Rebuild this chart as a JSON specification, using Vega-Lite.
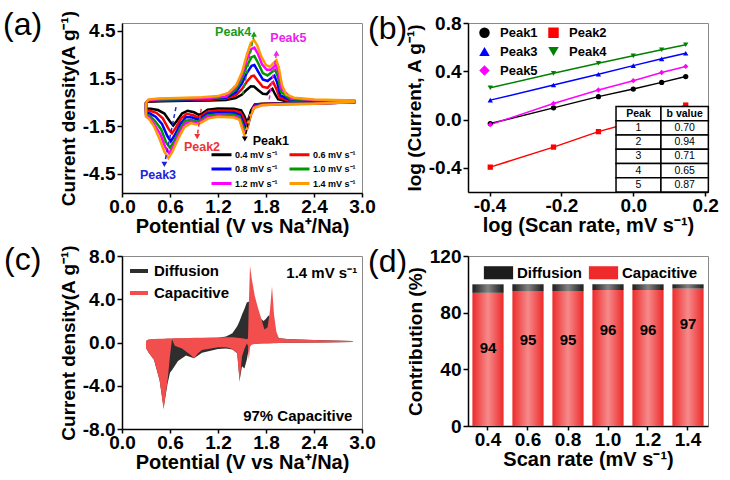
{
"$schema": "https://vega.github.io/schema/vega-lite/v6.json",
"padding": {"left": 2, "top": 8, "right": 0, "bottom": 0},
"config": {
  "font": "Liberation Sans",
  "locale": {"number": {"decimal": ".", "thousands": ",", "grouping": [3], "currency": ["$", ""], "minus": "-"}},
  "view": {"stroke": "#8a8a8a", "strokeWidth": 1},
  "axis": {"domainColor": "#000", "domainWidth": 1.5, "tickColor": "#000", "tickWidth": 1.5, "tickSize": 5, "labelFont": "Liberation Sans", "labelFontSize": 19, "labelFontWeight": "bold", "labelColor": "#000", "titleFont": "Liberation Sans", "titleFontSize": 19, "titleFontWeight": "bold", "titleColor": "#000", "grid": false, "labelPadding": 2, "titlePadding": 4, "labelFlush": false, "labelOverlap": false, "labelBound": false},
  "axisX": {"titleFontSize": 20, "tickSize": 4, "labelPadding": 0, "titlePadding": 0},
  "title": {"font": "Liberation Sans", "fontSize": 32, "fontWeight": "normal", "anchor": "start", "frame": "group", "color": "#000", "offset": -32},
  "legend": {"labelFont": "Liberation Sans", "labelColor": "#000", "title": null}
},
"datasets": {
  "cv": [
{"r":"0.4 mV s⁻¹","v":0.30,"j":0.00},{"r":"0.4 mV s⁻¹","v":0.33,"j":0.05},{"r":"0.4 mV s⁻¹","v":0.50,"j":0.08},{"r":"0.4 mV s⁻¹","v":0.80,"j":0.10},{"r":"0.4 mV s⁻¹","v":1.10,"j":0.12},{"r":"0.4 mV s⁻¹","v":1.30,"j":0.16},{"r":"0.4 mV s⁻¹","v":1.42,"j":0.28},{"r":"0.4 mV s⁻¹","v":1.50,"j":0.50},{"r":"0.4 mV s⁻¹","v":1.56,"j":0.80},{"r":"0.4 mV s⁻¹","v":1.61,"j":1.02},{"r":"0.4 mV s⁻¹","v":1.65,"j":1.00},{"r":"0.4 mV s⁻¹","v":1.70,"j":0.78},{"r":"0.4 mV s⁻¹","v":1.76,"j":0.55},{"r":"0.4 mV s⁻¹","v":1.81,"j":0.52},{"r":"0.4 mV s⁻¹","v":1.85,"j":0.75},{"r":"0.4 mV s⁻¹","v":1.88,"j":0.85},{"r":"0.4 mV s⁻¹","v":1.91,"j":0.55},{"r":"0.4 mV s⁻¹","v":1.95,"j":0.20},{"r":"0.4 mV s⁻¹","v":2.05,"j":0.08},{"r":"0.4 mV s⁻¹","v":2.40,"j":0.05},{"r":"0.4 mV s⁻¹","v":2.90,"j":0.05},
{"r":"0.4 mV s⁻¹","v":2.90,"j":0.00},{"r":"0.4 mV s⁻¹","v":2.40,"j":-0.04},{"r":"0.4 mV s⁻¹","v":2.00,"j":-0.05},{"r":"0.4 mV s⁻¹","v":1.75,"j":-0.08},{"r":"0.4 mV s⁻¹","v":1.66,"j":-0.12},{"r":"0.4 mV s⁻¹","v":1.62,"j":-0.45},{"r":"0.4 mV s⁻¹","v":1.58,"j":-1.05},{"r":"0.4 mV s⁻¹","v":1.56,"j":-1.25},{"r":"0.4 mV s⁻¹","v":1.53,"j":-0.85},{"r":"0.4 mV s⁻¹","v":1.49,"j":-0.50},{"r":"0.4 mV s⁻¹","v":1.40,"j":-0.40},{"r":"0.4 mV s⁻¹","v":1.20,"j":-0.38},{"r":"0.4 mV s⁻¹","v":1.07,"j":-0.45},{"r":"0.4 mV s⁻¹","v":1.00,"j":-0.70},{"r":"0.4 mV s⁻¹","v":0.96,"j":-0.78},{"r":"0.4 mV s⁻¹","v":0.90,"j":-0.62},{"r":"0.4 mV s⁻¹","v":0.82,"j":-0.52},{"r":"0.4 mV s⁻¹","v":0.75,"j":-0.70},{"r":"0.4 mV s⁻¹","v":0.68,"j":-1.20},{"r":"0.4 mV s⁻¹","v":0.64,"j":-1.45},{"r":"0.4 mV s⁻¹","v":0.60,"j":-1.20},{"r":"0.4 mV s⁻¹","v":0.53,"j":-0.70},{"r":"0.4 mV s⁻¹","v":0.45,"j":-0.48},{"r":"0.4 mV s⁻¹","v":0.36,"j":-0.40},{"r":"0.4 mV s⁻¹","v":0.30,"j":-0.38},{"r":"0.4 mV s⁻¹","v":0.30,"j":0.00},
{"r":"0.6 mV s⁻¹","v":0.30,"j":0.00},{"r":"0.6 mV s⁻¹","v":0.33,"j":0.08},{"r":"0.6 mV s⁻¹","v":0.50,"j":0.12},{"r":"0.6 mV s⁻¹","v":0.80,"j":0.15},{"r":"0.6 mV s⁻¹","v":1.10,"j":0.18},{"r":"0.6 mV s⁻¹","v":1.30,"j":0.24},{"r":"0.6 mV s⁻¹","v":1.42,"j":0.45},{"r":"0.6 mV s⁻¹","v":1.50,"j":0.85},{"r":"0.6 mV s⁻¹","v":1.56,"j":1.30},{"r":"0.6 mV s⁻¹","v":1.62,"j":1.65},{"r":"0.6 mV s⁻¹","v":1.65,"j":1.68},{"r":"0.6 mV s⁻¹","v":1.70,"j":1.35},{"r":"0.6 mV s⁻¹","v":1.76,"j":0.98},{"r":"0.6 mV s⁻¹","v":1.82,"j":0.92},{"r":"0.6 mV s⁻¹","v":1.86,"j":1.15},{"r":"0.6 mV s⁻¹","v":1.89,"j":1.28},{"r":"0.6 mV s⁻¹","v":1.93,"j":0.85},{"r":"0.6 mV s⁻¹","v":1.97,"j":0.30},{"r":"0.6 mV s⁻¹","v":2.07,"j":0.12},{"r":"0.6 mV s⁻¹","v":2.40,"j":0.07},{"r":"0.6 mV s⁻¹","v":2.90,"j":0.06},
{"r":"0.6 mV s⁻¹","v":2.90,"j":0.00},{"r":"0.6 mV s⁻¹","v":2.40,"j":-0.05},{"r":"0.6 mV s⁻¹","v":2.00,"j":-0.06},{"r":"0.6 mV s⁻¹","v":1.75,"j":-0.10},{"r":"0.6 mV s⁻¹","v":1.66,"j":-0.16},{"r":"0.6 mV s⁻¹","v":1.62,"j":-0.55},{"r":"0.6 mV s⁻¹","v":1.58,"j":-1.20},{"r":"0.6 mV s⁻¹","v":1.555,"j":-1.45},{"r":"0.6 mV s⁻¹","v":1.52,"j":-1.00},{"r":"0.6 mV s⁻¹","v":1.48,"j":-0.62},{"r":"0.6 mV s⁻¹","v":1.40,"j":-0.52},{"r":"0.6 mV s⁻¹","v":1.20,"j":-0.50},{"r":"0.6 mV s⁻¹","v":1.07,"j":-0.58},{"r":"0.6 mV s⁻¹","v":0.99,"j":-0.85},{"r":"0.6 mV s⁻¹","v":0.95,"j":-0.95},{"r":"0.6 mV s⁻¹","v":0.89,"j":-0.80},{"r":"0.6 mV s⁻¹","v":0.81,"j":-0.72},{"r":"0.6 mV s⁻¹","v":0.74,"j":-1.00},{"r":"0.6 mV s⁻¹","v":0.67,"j":-1.60},{"r":"0.6 mV s⁻¹","v":0.625,"j":-1.95},{"r":"0.6 mV s⁻¹","v":0.58,"j":-1.65},{"r":"0.6 mV s⁻¹","v":0.51,"j":-1.00},{"r":"0.6 mV s⁻¹","v":0.43,"j":-0.65},{"r":"0.6 mV s⁻¹","v":0.35,"j":-0.52},{"r":"0.6 mV s⁻¹","v":0.30,"j":-0.50},{"r":"0.6 mV s⁻¹","v":0.30,"j":0.00},
{"r":"0.8 mV s⁻¹","v":0.30,"j":0.00},{"r":"0.8 mV s⁻¹","v":0.33,"j":0.11},{"r":"0.8 mV s⁻¹","v":0.50,"j":0.16},{"r":"0.8 mV s⁻¹","v":0.80,"j":0.19},{"r":"0.8 mV s⁻¹","v":1.10,"j":0.23},{"r":"0.8 mV s⁻¹","v":1.30,"j":0.30},{"r":"0.8 mV s⁻¹","v":1.42,"j":0.62},{"r":"0.8 mV s⁻¹","v":1.50,"j":1.20},{"r":"0.8 mV s⁻¹","v":1.56,"j":1.85},{"r":"0.8 mV s⁻¹","v":1.62,"j":2.30},{"r":"0.8 mV s⁻¹","v":1.655,"j":2.36},{"r":"0.8 mV s⁻¹","v":1.70,"j":1.95},{"r":"0.8 mV s⁻¹","v":1.76,"j":1.45},{"r":"0.8 mV s⁻¹","v":1.82,"j":1.35},{"r":"0.8 mV s⁻¹","v":1.87,"j":1.55},{"r":"0.8 mV s⁻¹","v":1.905,"j":1.68},{"r":"0.8 mV s⁻¹","v":1.94,"j":1.25},{"r":"0.8 mV s⁻¹","v":1.98,"j":0.45},{"r":"0.8 mV s⁻¹","v":2.09,"j":0.18},{"r":"0.8 mV s⁻¹","v":2.40,"j":0.10},{"r":"0.8 mV s⁻¹","v":2.90,"j":0.08},
{"r":"0.8 mV s⁻¹","v":2.90,"j":0.01},{"r":"0.8 mV s⁻¹","v":2.40,"j":-0.06},{"r":"0.8 mV s⁻¹","v":2.00,"j":-0.08},{"r":"0.8 mV s⁻¹","v":1.75,"j":-0.12},{"r":"0.8 mV s⁻¹","v":1.655,"j":-0.22},{"r":"0.8 mV s⁻¹","v":1.61,"j":-0.68},{"r":"0.8 mV s⁻¹","v":1.57,"j":-1.40},{"r":"0.8 mV s⁻¹","v":1.545,"j":-1.65},{"r":"0.8 mV s⁻¹","v":1.51,"j":-1.20},{"r":"0.8 mV s⁻¹","v":1.475,"j":-0.78},{"r":"0.8 mV s⁻¹","v":1.40,"j":-0.65},{"r":"0.8 mV s⁻¹","v":1.20,"j":-0.62},{"r":"0.8 mV s⁻¹","v":1.07,"j":-0.70},{"r":"0.8 mV s⁻¹","v":0.985,"j":-0.98},{"r":"0.8 mV s⁻¹","v":0.945,"j":-1.08},{"r":"0.8 mV s⁻¹","v":0.88,"j":-0.95},{"r":"0.8 mV s⁻¹","v":0.80,"j":-0.92},{"r":"0.8 mV s⁻¹","v":0.73,"j":-1.35},{"r":"0.8 mV s⁻¹","v":0.66,"j":-2.05},{"r":"0.8 mV s⁻¹","v":0.61,"j":-2.45},{"r":"0.8 mV s⁻¹","v":0.565,"j":-2.10},{"r":"0.8 mV s⁻¹","v":0.50,"j":-1.35},{"r":"0.8 mV s⁻¹","v":0.42,"j":-0.90},{"r":"0.8 mV s⁻¹","v":0.35,"j":-0.70},{"r":"0.8 mV s⁻¹","v":0.30,"j":-0.65},{"r":"0.8 mV s⁻¹","v":0.30,"j":0.00},
{"r":"1.0 mV s⁻¹","v":0.30,"j":0.00},{"r":"1.0 mV s⁻¹","v":0.33,"j":0.13},{"r":"1.0 mV s⁻¹","v":0.50,"j":0.19},{"r":"1.0 mV s⁻¹","v":0.80,"j":0.22},{"r":"1.0 mV s⁻¹","v":1.10,"j":0.27},{"r":"1.0 mV s⁻¹","v":1.30,"j":0.35},{"r":"1.0 mV s⁻¹","v":1.42,"j":0.80},{"r":"1.0 mV s⁻¹","v":1.50,"j":1.50},{"r":"1.0 mV s⁻¹","v":1.56,"j":2.30},{"r":"1.0 mV s⁻¹","v":1.62,"j":2.85},{"r":"1.0 mV s⁻¹","v":1.655,"j":2.92},{"r":"1.0 mV s⁻¹","v":1.70,"j":2.50},{"r":"1.0 mV s⁻¹","v":1.76,"j":1.85},{"r":"1.0 mV s⁻¹","v":1.82,"j":1.70},{"r":"1.0 mV s⁻¹","v":1.87,"j":1.90},{"r":"1.0 mV s⁻¹","v":1.915,"j":2.05},{"r":"1.0 mV s⁻¹","v":1.95,"j":1.60},{"r":"1.0 mV s⁻¹","v":1.99,"j":0.65},{"r":"1.0 mV s⁻¹","v":2.10,"j":0.22},{"r":"1.0 mV s⁻¹","v":2.40,"j":0.13},{"r":"1.0 mV s⁻¹","v":2.90,"j":0.10},
{"r":"1.0 mV s⁻¹","v":2.90,"j":0.01},{"r":"1.0 mV s⁻¹","v":2.40,"j":-0.07},{"r":"1.0 mV s⁻¹","v":2.00,"j":-0.10},{"r":"1.0 mV s⁻¹","v":1.75,"j":-0.14},{"r":"1.0 mV s⁻¹","v":1.655,"j":-0.27},{"r":"1.0 mV s⁻¹","v":1.61,"j":-0.78},{"r":"1.0 mV s⁻¹","v":1.57,"j":-1.55},{"r":"1.0 mV s⁻¹","v":1.54,"j":-1.82},{"r":"1.0 mV s⁻¹","v":1.505,"j":-1.35},{"r":"1.0 mV s⁻¹","v":1.47,"j":-0.90},{"r":"1.0 mV s⁻¹","v":1.40,"j":-0.78},{"r":"1.0 mV s⁻¹","v":1.20,"j":-0.74},{"r":"1.0 mV s⁻¹","v":1.07,"j":-0.82},{"r":"1.0 mV s⁻¹","v":0.98,"j":-1.12},{"r":"1.0 mV s⁻¹","v":0.94,"j":-1.22},{"r":"1.0 mV s⁻¹","v":0.87,"j":-1.10},{"r":"1.0 mV s⁻¹","v":0.79,"j":-1.15},{"r":"1.0 mV s⁻¹","v":0.72,"j":-1.70},{"r":"1.0 mV s⁻¹","v":0.65,"j":-2.45},{"r":"1.0 mV s⁻¹","v":0.60,"j":-2.85},{"r":"1.0 mV s⁻¹","v":0.55,"j":-2.50},{"r":"1.0 mV s⁻¹","v":0.49,"j":-1.70},{"r":"1.0 mV s⁻¹","v":0.41,"j":-1.15},{"r":"1.0 mV s⁻¹","v":0.35,"j":-0.85},{"r":"1.0 mV s⁻¹","v":0.30,"j":-0.75},{"r":"1.0 mV s⁻¹","v":0.30,"j":0.00},
{"r":"1.2 mV s⁻¹","v":0.30,"j":0.00},{"r":"1.2 mV s⁻¹","v":0.33,"j":0.16},{"r":"1.2 mV s⁻¹","v":0.50,"j":0.22},{"r":"1.2 mV s⁻¹","v":0.80,"j":0.25},{"r":"1.2 mV s⁻¹","v":1.10,"j":0.30},{"r":"1.2 mV s⁻¹","v":1.30,"j":0.38},{"r":"1.2 mV s⁻¹","v":1.42,"j":0.95},{"r":"1.2 mV s⁻¹","v":1.50,"j":1.72},{"r":"1.2 mV s⁻¹","v":1.56,"j":2.70},{"r":"1.2 mV s⁻¹","v":1.615,"j":3.35},{"r":"1.2 mV s⁻¹","v":1.655,"j":3.45},{"r":"1.2 mV s⁻¹","v":1.70,"j":3.05},{"r":"1.2 mV s⁻¹","v":1.75,"j":2.40},{"r":"1.2 mV s⁻¹","v":1.81,"j":2.05},{"r":"1.2 mV s⁻¹","v":1.86,"j":2.05},{"r":"1.2 mV s⁻¹","v":1.925,"j":2.38},{"r":"1.2 mV s⁻¹","v":1.955,"j":1.90},{"r":"1.2 mV s⁻¹","v":1.995,"j":0.85},{"r":"1.2 mV s⁻¹","v":2.12,"j":0.26},{"r":"1.2 mV s⁻¹","v":2.40,"j":0.15},{"r":"1.2 mV s⁻¹","v":2.90,"j":0.11},
{"r":"1.2 mV s⁻¹","v":2.90,"j":0.02},{"r":"1.2 mV s⁻¹","v":2.40,"j":-0.08},{"r":"1.2 mV s⁻¹","v":2.00,"j":-0.11},{"r":"1.2 mV s⁻¹","v":1.75,"j":-0.16},{"r":"1.2 mV s⁻¹","v":1.65,"j":-0.31},{"r":"1.2 mV s⁻¹","v":1.605,"j":-0.85},{"r":"1.2 mV s⁻¹","v":1.565,"j":-1.65},{"r":"1.2 mV s⁻¹","v":1.535,"j":-1.95},{"r":"1.2 mV s⁻¹","v":1.50,"j":-1.50},{"r":"1.2 mV s⁻¹","v":1.465,"j":-1.00},{"r":"1.2 mV s⁻¹","v":1.40,"j":-0.87},{"r":"1.2 mV s⁻¹","v":1.20,"j":-0.82},{"r":"1.2 mV s⁻¹","v":1.07,"j":-0.91},{"r":"1.2 mV s⁻¹","v":0.98,"j":-1.22},{"r":"1.2 mV s⁻¹","v":0.935,"j":-1.30},{"r":"1.2 mV s⁻¹","v":0.865,"j":-1.20},{"r":"1.2 mV s⁻¹","v":0.785,"j":-1.35},{"r":"1.2 mV s⁻¹","v":0.71,"j":-2.00},{"r":"1.2 mV s⁻¹","v":0.64,"j":-2.80},{"r":"1.2 mV s⁻¹","v":0.59,"j":-3.20},{"r":"1.2 mV s⁻¹","v":0.54,"j":-2.80},{"r":"1.2 mV s⁻¹","v":0.48,"j":-2.00},{"r":"1.2 mV s⁻¹","v":0.40,"j":-1.35},{"r":"1.2 mV s⁻¹","v":0.34,"j":-0.95},{"r":"1.2 mV s⁻¹","v":0.30,"j":-0.83},{"r":"1.2 mV s⁻¹","v":0.30,"j":0.00},
{"r":"1.4 mV s⁻¹","v":0.30,"j":0.00},{"r":"1.4 mV s⁻¹","v":0.33,"j":0.18},{"r":"1.4 mV s⁻¹","v":0.45,"j":0.25},{"r":"1.4 mV s⁻¹","v":0.70,"j":0.28},{"r":"1.4 mV s⁻¹","v":1.00,"j":0.33},{"r":"1.4 mV s⁻¹","v":1.20,"j":0.40},{"r":"1.4 mV s⁻¹","v":1.33,"j":0.60},{"r":"1.4 mV s⁻¹","v":1.43,"j":1.10},{"r":"1.4 mV s⁻¹","v":1.50,"j":1.90},{"r":"1.4 mV s⁻¹","v":1.56,"j":3.00},{"r":"1.4 mV s⁻¹","v":1.61,"j":3.75},{"r":"1.4 mV s⁻¹","v":1.65,"j":3.92},{"r":"1.4 mV s⁻¹","v":1.69,"j":3.60},{"r":"1.4 mV s⁻¹","v":1.74,"j":2.90},{"r":"1.4 mV s⁻¹","v":1.80,"j":2.35},{"r":"1.4 mV s⁻¹","v":1.85,"j":2.25},{"r":"1.4 mV s⁻¹","v":1.90,"j":2.50},{"r":"1.4 mV s⁻¹","v":1.93,"j":2.65},{"r":"1.4 mV s⁻¹","v":1.96,"j":2.20},{"r":"1.4 mV s⁻¹","v":2.00,"j":1.10},{"r":"1.4 mV s⁻¹","v":2.05,"j":0.50},{"r":"1.4 mV s⁻¹","v":2.15,"j":0.30},{"r":"1.4 mV s⁻¹","v":2.40,"j":0.18},{"r":"1.4 mV s⁻¹","v":2.90,"j":0.12},
{"r":"1.4 mV s⁻¹","v":2.90,"j":0.02},{"r":"1.4 mV s⁻¹","v":2.40,"j":-0.08},{"r":"1.4 mV s⁻¹","v":2.00,"j":-0.12},{"r":"1.4 mV s⁻¹","v":1.75,"j":-0.18},{"r":"1.4 mV s⁻¹","v":1.65,"j":-0.35},{"r":"1.4 mV s⁻¹","v":1.60,"j":-0.90},{"r":"1.4 mV s⁻¹","v":1.56,"j":-1.70},{"r":"1.4 mV s⁻¹","v":1.53,"j":-2.05},{"r":"1.4 mV s⁻¹","v":1.50,"j":-1.60},{"r":"1.4 mV s⁻¹","v":1.47,"j":-1.10},{"r":"1.4 mV s⁻¹","v":1.40,"j":-0.95},{"r":"1.4 mV s⁻¹","v":1.20,"j":-0.90},{"r":"1.4 mV s⁻¹","v":1.08,"j":-1.00},{"r":"1.4 mV s⁻¹","v":0.98,"j":-1.30},{"r":"1.4 mV s⁻¹","v":0.93,"j":-1.38},{"r":"1.4 mV s⁻¹","v":0.86,"j":-1.30},{"r":"1.4 mV s⁻¹","v":0.78,"j":-1.55},{"r":"1.4 mV s⁻¹","v":0.70,"j":-2.30},{"r":"1.4 mV s⁻¹","v":0.63,"j":-3.10},{"r":"1.4 mV s⁻¹","v":0.58,"j":-3.50},{"r":"1.4 mV s⁻¹","v":0.53,"j":-3.10},{"r":"1.4 mV s⁻¹","v":0.47,"j":-2.30},{"r":"1.4 mV s⁻¹","v":0.40,"j":-1.50},{"r":"1.4 mV s⁻¹","v":0.34,"j":-1.05},{"r":"1.4 mV s⁻¹","v":0.30,"j":-0.90},{"r":"1.4 mV s⁻¹","v":0.30,"j":0.00}
  ],
  "arrows": [
    {"p":"Peak4","x":1.51,"y":0.5,"x2":1.65,"y2":4.3,"d":"up"},
    {"p":"Peak5","x":1.84,"y":0.2,"x2":1.93,"y2":3.1,"d":"up"},
    {"p":"Peak3","x":0.675,"y":-0.3,"x2":0.53,"y2":-3.9,"d":"down"},
    {"p":"Peak2","x":0.99,"y":-0.4,"x2":0.94,"y2":-2.15,"d":"down"},
    {"p":"Peak1","x":1.61,"y":-0.45,"x2":1.535,"y2":-2.3,"d":"down"}
  ],
  "plabels": [
    {"p":"Peak4","x":1.39,"y":4.45,"t":"Peak4"},
    {"p":"Peak5","x":2.08,"y":4.05,"t":"Peak5"},
    {"p":"Peak3","x":0.45,"y":-4.55,"t":"Peak3"},
    {"p":"Peak2","x":1.0,"y":-2.8,"t":"Peak2"},
    {"p":"Peak1","x":1.86,"y":-2.4,"t":"Peak1"}
  ],
  "bpts": [
    {"p":"Peak1","x":-0.398,"y":-0.033},{"p":"Peak1","x":-0.222,"y":0.097},{"p":"Peak1","x":-0.097,"y":0.19},{"p":"Peak1","x":0.0,"y":0.253},{"p":"Peak1","x":0.079,"y":0.308},{"p":"Peak1","x":0.146,"y":0.356},
    {"p":"Peak2","x":-0.398,"y":-0.394},{"p":"Peak2","x":-0.222,"y":-0.228},{"p":"Peak2","x":-0.097,"y":-0.10},{"p":"Peak2","x":0.0,"y":-0.02},{"p":"Peak2","x":0.079,"y":0.05},{"p":"Peak2","x":0.146,"y":0.12},
    {"p":"Peak3","x":-0.398,"y":0.161},{"p":"Peak3","x":-0.222,"y":0.286},{"p":"Peak3","x":-0.097,"y":0.375},{"p":"Peak3","x":0.0,"y":0.447},{"p":"Peak3","x":0.079,"y":0.503},{"p":"Peak3","x":0.146,"y":0.55},
    {"p":"Peak4","x":-0.398,"y":0.264},{"p":"Peak4","x":-0.222,"y":0.383},{"p":"Peak4","x":-0.097,"y":0.467},{"p":"Peak4","x":0.0,"y":0.528},{"p":"Peak4","x":0.079,"y":0.578},{"p":"Peak4","x":0.146,"y":0.62},
    {"p":"Peak5","x":-0.398,"y":-0.042},{"p":"Peak5","x":-0.222,"y":0.133},{"p":"Peak5","x":-0.097,"y":0.245},{"p":"Peak5","x":0.0,"y":0.322},{"p":"Peak5","x":0.079,"y":0.39},{"p":"Peak5","x":0.146,"y":0.44}
  ],
  "tcells": [
    {"x":-0.048,"x2":0.077,"y":0.108,"y2":-0.010},{"x":0.077,"x2":0.209,"y":0.108,"y2":-0.010},
    {"x":-0.048,"x2":0.077,"y":-0.010,"y2":-0.128},{"x":0.077,"x2":0.209,"y":-0.010,"y2":-0.128},
    {"x":-0.048,"x2":0.077,"y":-0.128,"y2":-0.246},{"x":0.077,"x2":0.209,"y":-0.128,"y2":-0.246},
    {"x":-0.048,"x2":0.077,"y":-0.246,"y2":-0.364},{"x":0.077,"x2":0.209,"y":-0.246,"y2":-0.364},
    {"x":-0.048,"x2":0.077,"y":-0.364,"y2":-0.482},{"x":0.077,"x2":0.209,"y":-0.364,"y2":-0.482},
    {"x":-0.048,"x2":0.077,"y":-0.482,"y2":-0.600},{"x":0.077,"x2":0.209,"y":-0.482,"y2":-0.600}
  ],
  "thead": [
    {"x":0.0145,"y":0.049,"t":"Peak"},{"x":0.143,"y":0.049,"t":"b value"}
  ],
  "tbody": [
    {"x":0.0145,"y":-0.069,"t":"1"},{"x":0.143,"y":-0.069,"t":"0.70"},
    {"x":0.0145,"y":-0.187,"t":"2"},{"x":0.143,"y":-0.187,"t":"0.94"},
    {"x":0.0145,"y":-0.305,"t":"3"},{"x":0.143,"y":-0.305,"t":"0.71"},
    {"x":0.0145,"y":-0.423,"t":"4"},{"x":0.143,"y":-0.423,"t":"0.65"},
    {"x":0.0145,"y":-0.541,"t":"5"},{"x":0.143,"y":-0.541,"t":"0.87"}
  ],
  "carea": [
    {"c":"Diffusion","v":0.30,"hi":0.15,"lo":-0.45},{"c":"Diffusion","v":0.33,"hi":0.25,"lo":-0.90},{"c":"Diffusion","v":0.40,"hi":0.30,"lo":-1.60},{"c":"Diffusion","v":0.47,"hi":0.32,"lo":-3.50},{"c":"Diffusion","v":0.52,"hi":0.33,"lo":-6.00},{"c":"Diffusion","v":0.57,"hi":0.34,"lo":-3.80},{"c":"Diffusion","v":0.60,"hi":0.35,"lo":-2.80},{"c":"Diffusion","v":0.63,"hi":0.35,"lo":-2.50},{"c":"Diffusion","v":0.70,"hi":0.36,"lo":-1.70},{"c":"Diffusion","v":0.80,"hi":0.38,"lo":-1.20},{"c":"Diffusion","v":0.90,"hi":0.40,"lo":-1.45},{"c":"Diffusion","v":1.00,"hi":0.42,"lo":-0.95},{"c":"Diffusion","v":1.20,"hi":0.45,"lo":-0.60},{"c":"Diffusion","v":1.30,"hi":0.55,"lo":-0.55},{"c":"Diffusion","v":1.38,"hi":0.85,"lo":-0.65},{"c":"Diffusion","v":1.44,"hi":1.50,"lo":-1.00},{"c":"Diffusion","v":1.47,"hi":2.00,"lo":-3.50},{"c":"Diffusion","v":1.50,"hi":2.60,"lo":-2.20},{"c":"Diffusion","v":1.53,"hi":3.10,"lo":-2.40},{"c":"Diffusion","v":1.56,"hi":3.70,"lo":-1.60},{"c":"Diffusion","v":1.59,"hi":3.80,"lo":-0.40},{"c":"Diffusion","v":1.62,"hi":3.40,"lo":-0.15},{"c":"Diffusion","v":1.70,"hi":2.40,"lo":-0.10},{"c":"Diffusion","v":1.77,"hi":2.00,"lo":-0.08},{"c":"Diffusion","v":1.80,"hi":2.20,"lo":-0.08},{"c":"Diffusion","v":1.83,"hi":2.50,"lo":-0.08},{"c":"Diffusion","v":1.86,"hi":2.30,"lo":-0.06},{"c":"Diffusion","v":1.90,"hi":1.20,"lo":-0.05},{"c":"Diffusion","v":1.96,"hi":0.40,"lo":-0.05},{"c":"Diffusion","v":2.10,"hi":0.30,"lo":-0.02},{"c":"Diffusion","v":2.50,"hi":0.20,"lo":0.00},{"c":"Diffusion","v":2.88,"hi":0.15,"lo":0.05},
    {"c":"Capacitive","v":0.30,"hi":0.15,"lo":-0.55},{"c":"Capacitive","v":0.33,"hi":0.28,"lo":-0.90},{"c":"Capacitive","v":0.40,"hi":0.32,"lo":-1.60},{"c":"Capacitive","v":0.47,"hi":0.34,"lo":-3.50},{"c":"Capacitive","v":0.52,"hi":0.35,"lo":-6.20},{"c":"Capacitive","v":0.57,"hi":0.36,"lo":-3.50},{"c":"Capacitive","v":0.60,"hi":0.37,"lo":-1.20},{"c":"Capacitive","v":0.625,"hi":0.38,"lo":0.30},{"c":"Capacitive","v":0.66,"hi":0.39,"lo":-0.30},{"c":"Capacitive","v":0.75,"hi":0.40,"lo":-0.55},{"c":"Capacitive","v":0.85,"hi":0.42,"lo":-1.10},{"c":"Capacitive","v":0.90,"hi":0.43,"lo":-1.45},{"c":"Capacitive","v":0.95,"hi":0.44,"lo":-1.00},{"c":"Capacitive","v":1.00,"hi":0.45,"lo":-0.70},{"c":"Capacitive","v":1.20,"hi":0.47,"lo":-0.45},{"c":"Capacitive","v":1.30,"hi":0.48,"lo":-0.45},{"c":"Capacitive","v":1.38,"hi":0.48,"lo":-0.60},{"c":"Capacitive","v":1.44,"hi":0.45,"lo":-1.00},{"c":"Capacitive","v":1.47,"hi":0.42,"lo":-3.70},{"c":"Capacitive","v":1.50,"hi":0.40,"lo":-1.30},{"c":"Capacitive","v":1.53,"hi":0.35,"lo":-0.60},{"c":"Capacitive","v":1.56,"hi":0.30,"lo":-0.10},{"c":"Capacitive","v":1.575,"hi":0.40,"lo":-0.30},{"c":"Capacitive","v":1.585,"hi":3.50,"lo":-1.60},{"c":"Capacitive","v":1.60,"hi":7.10,"lo":-0.40},{"c":"Capacitive","v":1.62,"hi":6.00,"lo":-0.20},{"c":"Capacitive","v":1.66,"hi":4.30,"lo":-0.15},{"c":"Capacitive","v":1.70,"hi":3.20,"lo":-0.12},{"c":"Capacitive","v":1.75,"hi":2.00,"lo":-0.10},{"c":"Capacitive","v":1.78,"hi":1.20,"lo":-0.10},{"c":"Capacitive","v":1.82,"hi":1.40,"lo":-0.10},{"c":"Capacitive","v":1.85,"hi":3.00,"lo":-0.08},{"c":"Capacitive","v":1.875,"hi":5.20,"lo":-0.08},{"c":"Capacitive","v":1.90,"hi":2.60,"lo":-0.06},{"c":"Capacitive","v":1.93,"hi":1.00,"lo":-0.06},{"c":"Capacitive","v":1.96,"hi":0.40,"lo":-0.05},{"c":"Capacitive","v":2.10,"hi":0.30,"lo":-0.02},{"c":"Capacitive","v":2.50,"hi":0.20,"lo":0.00},{"c":"Capacitive","v":2.88,"hi":0.15,"lo":0.05}
  ],
  "cnotes": [
    {"x":2.94,"y":6.4,"t":"1.4 mV s⁻¹"},
    {"x":2.88,"y":-6.8,"t":"97% Capacitive"}
  ],
  "contrib": [
    {"rate":"0.4","type":"Capacitive","value":94},{"rate":"0.4","type":"Diffusion","value":6},
    {"rate":"0.6","type":"Capacitive","value":95},{"rate":"0.6","type":"Diffusion","value":5},
    {"rate":"0.8","type":"Capacitive","value":95},{"rate":"0.8","type":"Diffusion","value":5},
    {"rate":"1.0","type":"Capacitive","value":96},{"rate":"1.0","type":"Diffusion","value":4},
    {"rate":"1.2","type":"Capacitive","value":96},{"rate":"1.2","type":"Diffusion","value":4},
    {"rate":"1.4","type":"Capacitive","value":97},{"rate":"1.4","type":"Diffusion","value":3}
  ],
  "dlabels": [
    {"rate":"0.4","ly":55,"t":"94"},{"rate":"0.6","ly":61,"t":"95"},{"rate":"0.8","ly":61,"t":"95"},
    {"rate":"1.0","ly":68,"t":"96"},{"rate":"1.2","ly":68,"t":"96"},{"rate":"1.4","ly":72,"t":"97"}
  ]
},
"columns": 2,
"spacing": {"row": 63, "column": 106},
"bounds": "flush",
"resolve": {"scale": {"color": "independent", "shape": "independent"}, "legend": {"color": "independent", "shape": "independent"}},
"concat": [
   {
    "width": 240, "height": 170,
    "title": {"text": "(a)", "dx": -119},
    "resolve": {"scale": {"color": "independent", "shape": "independent"}},
    "layer": [
     {
      "data": {"name": "cv"},
      "mark": {"type": "line", "strokeWidth": 2.5, "clip": true},
      "encoding": {
        "x": {"field": "v", "type": "quantitative", "scale": {"domain": [0, 3], "nice": false, "zero": false},
          "axis": {"title": "Potential (V vs Na⁺/Na)", "values": [0, 0.3, 0.6, 0.9, 1.2, 1.5, 1.8, 2.1, 2.4, 2.7, 3.0], "format": ".1f",
            "labelExpr": "abs(datum.value / 0.6 - round(datum.value / 0.6)) < 0.01 ? datum.label : ''",
            "tickSize": {"condition": {"test": "abs(datum.value / 0.6 - round(datum.value / 0.6)) < 0.01", "value": 4}, "value": 2.5}}},
        "y": {"field": "j", "type": "quantitative", "scale": {"domain": [-5.7, 5.0], "nice": false, "zero": false}, "axis": {"title": "Current density(A g⁻¹)", "values": [-4.5, -3, -1.5, 0, 1.5, 3, 4.5], "format": ".1f"}},
        "color": {"field": "r", "type": "nominal", "scale": {"domain": ["0.4 mV s⁻¹", "0.6 mV s⁻¹", "0.8 mV s⁻¹", "1.0 mV s⁻¹", "1.2 mV s⁻¹", "1.4 mV s⁻¹"], "range": ["#000000", "#ff0000", "#0000ff", "#009a00", "#ff00ff", "#ff9a00"]},
          "legend": {"orient": "none", "direction": "horizontal", "legendX": 93, "legendY": 125, "columns": 2, "symbolType": "M-2,0H2", "symbolSize": 100, "symbolStrokeWidth": 3, "labelFontSize": 9, "labelFontWeight": "bold", "rowPadding": 1.5, "columnPadding": 5, "labelOffset": 7}},
        "order": {"value": null}
      }
     },
     {
      "data": {"name": "arrows"},
      "mark": {"type": "rule", "strokeDash": [4, 3], "strokeWidth": 1.5},
      "encoding": {
        "x": {"field": "x", "type": "quantitative"}, "y": {"field": "y", "type": "quantitative"},
        "x2": {"field": "x2"}, "y2": {"field": "y2"},
        "color": {"field": "p", "type": "nominal", "scale": {"domain": ["Peak1", "Peak2", "Peak3", "Peak4", "Peak5"], "range": ["#000000", "#ee3333", "#2222dd", "#1a9a1a", "#ee22ee"]}, "legend": null}
      }
     },
     {
      "data": {"name": "arrows"},
      "mark": {"type": "point", "filled": true, "size": 35, "opacity": 1},
      "encoding": {
        "x": {"field": "x2", "type": "quantitative"}, "y": {"field": "y2", "type": "quantitative"},
        "color": {"field": "p", "type": "nominal", "scale": {"domain": ["Peak1", "Peak2", "Peak3", "Peak4", "Peak5"], "range": ["#000000", "#ee3333", "#2222dd", "#1a9a1a", "#ee22ee"]}, "legend": null},
        "shape": {"field": "d", "type": "nominal", "scale": {"domain": ["up", "down"], "range": ["triangle-up", "triangle-down"]}, "legend": null}
      }
     },
     {
      "data": {"name": "plabels"},
      "mark": {"type": "text", "fontWeight": "bold", "fontSize": 12.5},
      "encoding": {
        "x": {"field": "x", "type": "quantitative"}, "y": {"field": "y", "type": "quantitative"},
        "text": {"field": "t"},
        "color": {"field": "p", "type": "nominal", "scale": {"domain": ["Peak1", "Peak2", "Peak3", "Peak4", "Peak5"], "range": ["#000000", "#ee3333", "#2222dd", "#1a9a1a", "#ee22ee"]}, "legend": null}
      }
     }
    ]
   },
   {
    "width": 240, "height": 169,
    "title": {"text": "(b)", "dx": -100},
    "resolve": {"scale": {"color": "independent", "shape": "independent"}},
    "layer": [
     {
      "data": {"name": "bpts"},
      "mark": {"type": "line", "strokeWidth": 1.5},
      "encoding": {
        "x": {"field": "x", "type": "quantitative", "scale": {"domain": [-0.46, 0.208], "nice": false, "zero": false},
          "axis": {"title": "log (Scan rate, mV s⁻¹)", "values": [-0.4, -0.3, -0.2, -0.1, 0, 0.1, 0.2], "format": ".1f",
            "labelExpr": "abs(datum.value / 0.2 - round(datum.value / 0.2)) < 0.01 ? datum.label : ''",
            "tickSize": {"condition": {"test": "abs(datum.value / 0.2 - round(datum.value / 0.2)) < 0.01", "value": 4}, "value": 2.5}}},
        "y": {"field": "y", "type": "quantitative", "scale": {"domain": [-0.6, 0.8], "nice": false, "zero": false}, "axis": {"title": "log (Current, A g⁻¹)", "values": [-0.4, 0, 0.4, 0.8], "format": ".1f"}},
        "color": {"field": "p", "type": "nominal", "scale": {"domain": ["Peak1", "Peak2", "Peak3", "Peak4", "Peak5"], "range": ["#000000", "#ff0000", "#0000ff", "#008000", "#ff00ff"]}, "legend": null}
      }
     },
     {
      "data": {"name": "bpts"},
      "mark": {"type": "point", "filled": true, "size": 28, "opacity": 1},
      "encoding": {
        "x": {"field": "x", "type": "quantitative"}, "y": {"field": "y", "type": "quantitative"},
        "color": {"field": "p", "type": "nominal", "scale": {"domain": ["Peak1", "Peak2", "Peak3", "Peak4", "Peak5"], "range": ["#000000", "#ff0000", "#0000ff", "#008000", "#ff00ff"]},
          "legend": {"orient": "none", "direction": "horizontal", "legendX": 10, "legendY": 3, "columns": 2, "symbolSize": 110, "labelFontSize": 13, "labelFontWeight": "bold", "labelOffset": 9, "rowPadding": 5, "columnPadding": 9,
            "encode": {"labels": {"update": {"fill": {"signal": "datum.value == 'Peak1' ? '#000000' : datum.value == 'Peak2' ? '#ff0000' : datum.value == 'Peak3' ? '#0000ff' : datum.value == 'Peak4' ? '#008000' : '#ff00ff'"}}}, "symbols": {"update": {"size": {"value": 110}, "opacity": {"value": 1}}}}}},
        "shape": {"field": "p", "type": "nominal", "scale": {"domain": ["Peak1", "Peak2", "Peak3", "Peak4", "Peak5"], "range": ["circle", "square", "triangle-up", "triangle-down", "diamond"]},
          "legend": {"orient": "none", "direction": "horizontal", "legendX": 10, "legendY": 3, "columns": 2, "symbolSize": 110, "labelFontSize": 13, "labelFontWeight": "bold", "labelOffset": 9, "rowPadding": 5, "columnPadding": 9,
            "encode": {"labels": {"update": {"fill": {"signal": "datum.value == 'Peak1' ? '#000000' : datum.value == 'Peak2' ? '#ff0000' : datum.value == 'Peak3' ? '#0000ff' : datum.value == 'Peak4' ? '#008000' : '#ff00ff'"}}}, "symbols": {"update": {"size": {"value": 110}, "opacity": {"value": 1}}}}}}
      }
     },
     {
      "data": {"name": "tcells"},
      "mark": {"type": "rect", "fill": "#ffffff", "stroke": "#000000", "strokeWidth": 1.5},
      "encoding": {
        "x": {"field": "x", "type": "quantitative"}, "x2": {"field": "x2"},
        "y": {"field": "y", "type": "quantitative"}, "y2": {"field": "y2"}
      }
     },
     {
      "data": {"name": "thead"},
      "mark": {"type": "text", "fontWeight": "bold", "fontSize": 10.5, "color": "#000"},
      "encoding": {"x": {"field": "x", "type": "quantitative"}, "y": {"field": "y", "type": "quantitative"}, "text": {"field": "t"}}
     },
     {
      "data": {"name": "tbody"},
      "mark": {"type": "text", "fontSize": 10.5, "color": "#000"},
      "encoding": {"x": {"field": "x", "type": "quantitative"}, "y": {"field": "y", "type": "quantitative"}, "text": {"field": "t"}}
     }
    ]
   },
   {
    "width": 240, "height": 173,
    "title": {"text": "(c)", "dx": -118},
    "layer": [
     {
      "data": {"name": "carea"},
      "transform": [{"filter": "datum.c == 'Diffusion'"}],
      "mark": {"type": "area", "opacity": 1},
      "encoding": {
        "x": {"field": "v", "type": "quantitative", "scale": {"domain": [0, 3], "nice": false, "zero": false},
          "axis": {"title": "Potential (V vs Na⁺/Na)", "values": [0, 0.3, 0.6, 0.9, 1.2, 1.5, 1.8, 2.1, 2.4, 2.7, 3.0], "format": ".1f",
            "labelExpr": "abs(datum.value / 0.6 - round(datum.value / 0.6)) < 0.01 ? datum.label : ''",
            "tickSize": {"condition": {"test": "abs(datum.value / 0.6 - round(datum.value / 0.6)) < 0.01", "value": 4}, "value": 2.5}}},
        "y": {"field": "hi", "type": "quantitative", "stack": null, "scale": {"domain": [-8, 8], "nice": false, "zero": false},
          "axis": {"title": "Current density(A g⁻¹)", "values": [-8, -6, -4, -2, 0, 2, 4, 6, 8], "format": ".1f",
            "labelExpr": "abs(datum.value / 4 - round(datum.value / 4)) < 0.01 ? datum.label : ''",
            "tickSize": {"condition": {"test": "abs(datum.value / 4 - round(datum.value / 4)) < 0.01", "value": 5}, "value": 3}}},
        "y2": {"field": "lo"},
        "color": {"field": "c", "type": "nominal", "scale": {"domain": ["Diffusion", "Capacitive"], "range": ["#2e2e2e", "#f24e4e"]},
          "legend": {"orient": "none", "legendX": 7, "legendY": 5, "symbolType": "M-1,-0.22H1V0.22H-1Z", "symbolSize": 324, "labelFontSize": 15, "labelFontWeight": "bold", "labelOffset": 5, "rowPadding": 4}}
      }
     },
     {
      "data": {"name": "carea"},
      "transform": [{"filter": "datum.c == 'Capacitive'"}],
      "mark": {"type": "area", "opacity": 1},
      "encoding": {
        "x": {"field": "v", "type": "quantitative"},
        "y": {"field": "hi", "type": "quantitative", "stack": null},
        "y2": {"field": "lo"},
        "color": {"field": "c", "type": "nominal"}
      }
     },
     {
      "data": {"name": "cnotes"},
      "mark": {"type": "text", "align": "right", "fontWeight": "bold", "fontSize": 15, "color": "#000"},
      "encoding": {"x": {"field": "x", "type": "quantitative"}, "y": {"field": "y", "type": "quantitative"}, "text": {"field": "t"}}
     }
    ]
   },
   {
    "width": 240, "height": 170,
    "title": {"text": "(d)", "dx": -100},
    "layer": [
     {
      "data": {"name": "contrib"},
      "mark": {"type": "bar"},
      "encoding": {
        "x": {"field": "rate", "type": "ordinal", "scale": {"paddingInner": 0.22, "paddingOuter": 0.11}, "axis": {"title": "Scan rate (mV s⁻¹)", "labelAngle": 0}},
        "y": {"field": "value", "type": "quantitative", "stack": "zero", "scale": {"domain": [0, 120], "nice": false},
          "axis": {"title": "Contribution (%)", "values": [0, 10, 20, 30, 40, 50, 60, 70, 80, 90, 100, 110, 120],
            "labelExpr": "datum.value % 20 == 0 ? datum.label : ''",
            "tickSize": {"condition": {"test": "datum.value % 20 == 0", "value": 5}, "value": 3}}},
        "color": {"field": "type", "type": "nominal", "scale": {"domain": ["Diffusion", "Capacitive"], "range": ["#1c1c1c", "#ee2a2a"]},
          "legend": {"orient": "none", "direction": "horizontal", "legendX": 20, "legendY": 6, "symbolType": "M-1.5,-0.67H1.5V0.67H-1.5Z", "symbolSize": 380, "labelFontSize": 15, "labelFontWeight": "bold", "labelOffset": 8, "columnPadding": 6,
            "encode": {"symbols": {"update": {"fill": {"signal": "datum.value == 'Diffusion' ? {gradient: 'linear', x1: 0, y1: 0, x2: 1, y2: 0, stops: [{offset: 0, color: '#111111'}, {offset: 0.5, color: '#7a7a7a'}, {offset: 1, color: '#111111'}]} : {gradient: 'linear', x1: 0, y1: 0, x2: 1, y2: 0, stops: [{offset: 0, color: '#ec2424'}, {offset: 0.5, color: '#ff8c8c'}, {offset: 1, color: '#ec2424'}]}"}, "stroke": {"value": null}}}}}},
        "order": {"field": "type", "sort": "ascending"}
      }
     },
     {
      "data": {"name": "contrib"},
      "mark": {"type": "bar", "fill": {"gradient": "linear", "x1": 0, "y1": 0, "x2": 1, "y2": 0, "stops": [{"offset": 0, "color": "rgba(255,255,255,0)"}, {"offset": 0.5, "color": "rgba(255,255,255,0.45)"}, {"offset": 1, "color": "rgba(255,255,255,0)"}]}},
      "encoding": {
        "x": {"field": "rate", "type": "ordinal"},
        "y": {"field": "value", "type": "quantitative", "stack": "zero"},
        "detail": {"field": "type", "type": "nominal"},
        "order": {"field": "type", "sort": "ascending"}
      }
     },
     {
      "data": {"name": "dlabels"},
      "mark": {"type": "text", "fontWeight": "bold", "fontSize": 15, "color": "#000"},
      "encoding": {"x": {"field": "rate", "type": "ordinal"}, "y": {"field": "ly", "type": "quantitative"}, "text": {"field": "t"}}
     }
    ]
   }
]
}
